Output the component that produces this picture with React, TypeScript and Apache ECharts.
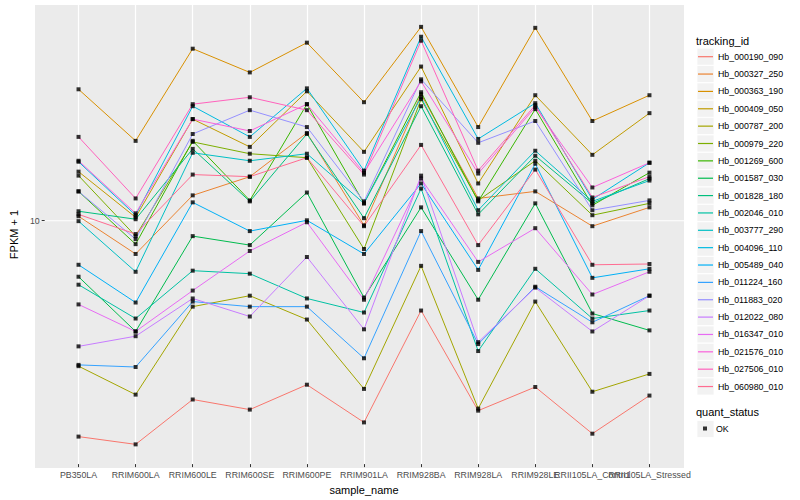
import React, { useEffect, useRef } from "react";
import * as echarts from "echarts";

const categories = [
  "PB350LA", "RRIM600LA", "RRIM600LE", "RRIM600SE", "RRIM600PE", "RRIM901LA",
  "RRIM928BA", "RRIM928LA", "RRIM928LE", "RRII105LA_Control", "RRII105LA_Stressed",
];

const trackingIds = [
  "Hb_000190_090", "Hb_000327_250", "Hb_000363_190", "Hb_000409_050", "Hb_000787_200",
  "Hb_000979_220", "Hb_001269_600", "Hb_001587_030", "Hb_001828_180", "Hb_002046_010",
  "Hb_003777_290", "Hb_004096_110", "Hb_005489_040", "Hb_011224_160", "Hb_011883_020",
  "Hb_012022_080", "Hb_016347_010", "Hb_021576_010", "Hb_027506_010", "Hb_060980_010",
];

const colors = [
  "#F8766D", "#EA8331", "#D89000", "#C09B00", "#A3A500", "#7CAE00", "#39B600", "#00BB4E",
  "#00BF7D", "#00C1A3", "#00BFC4", "#00BAE0", "#00B0F6", "#35A2FF", "#9590FF", "#C77CFF",
  "#E76BF3", "#FA62DB", "#FF62BC", "#FF6C91",
];

// FPKM + 1 per sample, in the order of `categories`
const hb_000190_090 = [3.67, 3.54, 4.36, 4.16, 4.67, 3.92, 6.59, 4.14, 4.62, 3.72, 4.44];
const hb_000327_250 = [10.21, 8.57, 11.25, 12.27, 15.03, 9.79, 17.99, 11.09, 11.46, 9.75, 10.64];
const hb_000363_190 = [18.41, 14.49, 22.23, 19.91, 22.86, 17.34, 24.6, 15.45, 24.49, 15.89, 17.91];
const hb_000409_050 = [12.56, 10.16, 16.03, 14.09, 18.24, 13.77, 20.46, 11.89, 17.91, 13.58, 16.48];
const hb_000787_200 = [5.09, 4.46, 6.71, 7.06, 6.32, 4.58, 8.11, 4.18, 6.87, 4.52, 4.91];
const hb_000979_220 = [12.33, 9.31, 14.42, 13.65, 13.4, 8.77, 17.58, 10.99, 13.21, 10.26, 10.84];
const hb_001269_600 = [11.46, 8.97, 14.49, 10.99, 17.18, 10.84, 18.16, 10.94, 16.79, 10.74, 12.5];
const hb_001587_030 = [7.71, 5.98, 9.31, 8.93, 11.4, 7.0, 10.64, 6.93, 10.84, 6.5, 6.01];
const hb_001828_180 = [10.45, 10.07, 13.96, 10.94, 14.96, 10.12, 17.02, 10.3, 13.52, 10.84, 12.16];
const hb_002046_010 = [7.43, 6.35, 7.93, 7.82, 6.97, 6.53, 11.61, 5.46, 8.0, 6.35, 6.59];
const hb_003777_290 = [9.98, 7.89, 13.71, 13.21, 13.65, 10.84, 17.74, 10.5, 13.84, 10.94, 12.05];
const hb_004096_110 = [13.15, 10.26, 17.02, 14.76, 18.49, 12.62, 23.5, 14.62, 17.26, 11.04, 13.09];
const hb_005489_040 = [8.15, 6.84, 10.89, 9.53, 10.02, 8.57, 11.89, 7.96, 13.03, 7.67, 8.0];
const hb_011224_160 = [5.12, 5.07, 6.87, 6.71, 6.71, 5.28, 9.53, 5.64, 7.36, 6.24, 7.06];
const hb_011883_020 = [11.46, 9.18, 14.96, 16.71, 15.45, 10.94, 19.28, 14.36, 15.89, 10.5, 10.99];
const hb_012022_080 = [5.58, 5.85, 6.97, 6.41, 8.45, 6.04, 12.33, 5.69, 7.33, 5.98, 7.06];
const hb_016347_010 = [6.78, 5.98, 7.23, 8.69, 9.93, 6.93, 12.16, 8.26, 9.66, 7.1, 7.89];
const hb_021576_010 = [13.21, 10.35, 16.03, 15.17, 17.18, 12.5, 19.1, 12.45, 16.94, 11.67, 13.09];
const hb_027506_010 = [14.76, 11.09, 17.18, 17.74, 16.71, 12.39, 23.07, 12.62, 17.1, 11.14, 12.27];
const hb_060980_010 = [10.3, 9.4, 12.39, 12.27, 13.4, 9.75, 14.22, 8.93, 12.68, 8.15, 8.18];

const seriesValues = [
  hb_000190_090, hb_000327_250, hb_000363_190, hb_000409_050, hb_000787_200,
  hb_000979_220, hb_001269_600, hb_001587_030, hb_001828_180, hb_002046_010,
  hb_003777_290, hb_004096_110, hb_005489_040, hb_011224_160, hb_011883_020,
  hb_012022_080, hb_016347_010, hb_021576_010, hb_027506_010, hb_060980_010,
];

const quantStatus = ["OK"];
const yTickValues = [10];

const FONT = "'Liberation Sans', Arial, Helvetica, sans-serif";
// horizontal key line inside a 15x17 box (the leading moves keep the full box as bounds)
const LINE_ICON = "path://M0,0M15,17M0,7.9L15,7.9L15,9.1L0,9.1Z";

export default function App() {
  const ref = useRef<HTMLDivElement>(null);

  useEffect(() => {
    document.body.style.margin = "0";
    if (!ref.current) return;
    const chart = echarts.init(ref.current, null, { renderer: "svg" });

    const panel = { x: 35, y: 5, w: 649, h: 463 };
    const legLeft = 697;
    const legTop = 48.2;
    const keySize = 17;
    const keyGap = 0.36;

    const points: [number, number][] = [];
    seriesValues.forEach((vals) => {
      vals.forEach((v, j) => points.push([j, v]));
    });

    const lineSeries = trackingIds.map((id, i) => ({
      type: "line",
      name: id,
      data: seriesValues[i],
      symbol: "none",
      lineStyle: { color: colors[i], width: 1 },
      itemStyle: { color: colors[i] },
      z: 2,
    }));

    const keyBoxes: any[] = trackingIds.map((_, i) => ({
      type: "rect",
      silent: true,
      z: -10,
      shape: { x: legLeft, y: legTop + i * (keySize + keyGap), width: keySize, height: keySize },
      style: { fill: "#F2F2F2", stroke: "#FFFFFF", lineWidth: 0.8 },
    }));
    keyBoxes.push({
      type: "rect",
      silent: true,
      z: -10,
      shape: { x: legLeft, y: 420.5, width: keySize, height: keySize },
      style: { fill: "#F2F2F2", stroke: "#FFFFFF", lineWidth: 0.8 },
    });

    chart.setOption({
      animation: false,
      color: colors,
      textStyle: { fontFamily: FONT },
      grid: { left: 40.3, right: 122, top: panel.y, bottom: 500 - (panel.y + panel.h) },
      title: [
        {
          text: "tracking_id", left: 696, top: 35.5, padding: 0,
          textStyle: { fontSize: 11, fontWeight: "normal", color: "#000", fontFamily: FONT },
        },
        {
          text: "quant_status", left: 696, top: 406.5, padding: 0,
          textStyle: { fontSize: 11, fontWeight: "normal", color: "#000", fontFamily: FONT },
        },
      ],
      legend: [
        {
          data: trackingIds.map((id, i) => ({
            name: id,
            icon: LINE_ICON,
            itemStyle: { color: colors[i], borderColor: colors[i], borderWidth: 0 },
          })),
          orient: "vertical",
          left: 698,
          top: legTop,
          padding: 0,
          itemWidth: 15,
          itemHeight: keySize,
          itemGap: keyGap,
          selectedMode: false,
          textStyle: { fontSize: 8.8, color: "#000", fontFamily: FONT },
        },
        {
          data: quantStatus.map((q) => ({ name: q, icon: "rect" })),
          orient: "vertical",
          left: 703,
          top: 424,
          padding: 0,
          itemWidth: 4,
          itemHeight: 4,
          selectedMode: false,
          textStyle: { fontSize: 8.8, color: "#000", fontFamily: FONT, padding: [0, 0, 0, 4] },
        },
      ],
      xAxis: {
        type: "category",
        data: categories,
        boundaryGap: true,
        axisLine: { show: false },
        axisTick: { show: true, alignWithLabel: true, interval: 0, length: 3, lineStyle: { color: "#333333", width: 1 } },
        axisLabel: { interval: 0, fontSize: 8.8, color: "#4D4D4D", margin: 6, fontFamily: FONT },
        splitLine: { show: true, alignWithLabel: true, interval: 0, lineStyle: { color: "#FFFFFF", width: 1.2 } },
        name: "sample_name",
        nameLocation: "middle",
        nameGap: 14,
        nameTextStyle: { fontSize: 11, color: "#000", fontFamily: FONT },
      },
      yAxis: {
        type: "log",
        logBase: 10,
        min: 3.23,
        max: 27.23,
        offset: 5.3,
        axisLine: { show: false },
        axisTick: { show: true, length: 3, customValues: yTickValues, lineStyle: { color: "#333333", width: 1 } },
        axisLabel: {
          customValues: yTickValues,
          fontSize: 8.8,
          color: "#4D4D4D",
          margin: 5,
          fontFamily: FONT,
          formatter: (v: number) => (Math.abs(v - 10) < 1e-6 ? "10" : ""),
        },
        splitLine: { show: false },
        name: "FPKM + 1",
        nameLocation: "middle",
        nameGap: 17,
        nameTextStyle: { fontSize: 11, color: "#000", fontFamily: FONT },
      },
      graphic: {
        elements: [
          {
            id: "panelBg",
            type: "rect",
            silent: true,
            z: -20,
            shape: { x: panel.x, y: panel.y, width: panel.w, height: panel.h },
            style: { fill: "#EBEBEB" },
          },
          ...keyBoxes,
        ],
      },
      series: [
        ...lineSeries,
        {
          type: "scatter",
          name: "OK",
          data: points,
          symbol: "rect",
          symbolSize: 4,
          itemStyle: { color: "#000000" },
          z: 5,
        },
      ],
    });

    const gy = chart.convertToPixel({ yAxisIndex: 0 }, 10) as number;
    chart.setOption({
      graphic: {
        elements: [
          {
            id: "hgrid10",
            type: "line",
            silent: true,
            z: -5,
            shape: { x1: panel.x, y1: gy, x2: panel.x + panel.w, y2: gy },
            style: { stroke: "#FFFFFF", lineWidth: 1.2 },
          },
        ],
      },
    });

    return () => chart.dispose();
  }, []);

  return <div ref={ref} style={{ width: 800, height: 500 }} />;
}
